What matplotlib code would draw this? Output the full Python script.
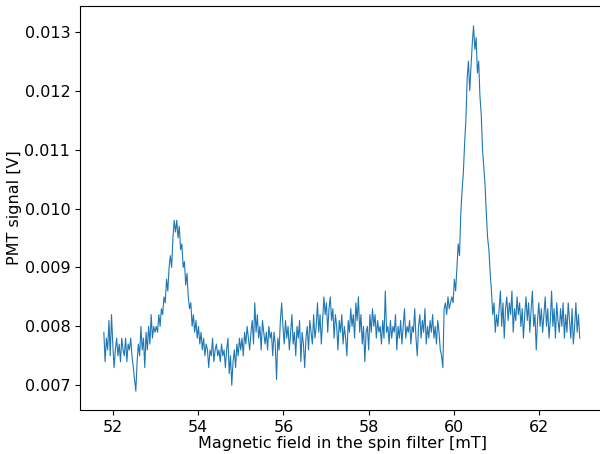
import numpy as np
import matplotlib
matplotlib.use("Agg")
import matplotlib.pyplot as plt

# PMT signal in mV (51.78 mT ... 62.96 mT, even steps)
seg_a = [7.9, 7.4, 7.8, 7.6, 8.1, 7.5, 8.2, 7.7, 7.3, 7.6, 7.8, 7.5, 7.7, 7.4,
         7.8, 7.6, 7.5, 7.8, 7.4, 7.7, 7.6, 7.8, 7.5, 7.3, 7.1, 6.9, 7.4, 7.7,
         7.5, 8.0, 7.6, 7.8, 7.3, 7.9, 7.6, 8.0, 7.7, 8.2, 7.8, 8.0, 7.9]
seg_b = [8.0, 7.9, 8.2, 8.0, 8.3, 8.2, 8.5, 8.4, 8.8, 8.6, 9.0, 9.2, 9.0, 9.5,
         9.8, 9.6, 9.8, 9.5, 9.7, 9.3, 9.4, 9.0, 9.1, 8.7, 8.9, 8.5, 8.3, 8.4,
         8.0, 8.2, 7.9, 8.1, 7.8]
seg_c = [8.0, 7.7, 7.9, 7.6, 7.8, 7.5, 7.7, 7.6, 7.3, 7.6, 7.5, 7.8, 7.4, 7.6,
         7.7, 7.5, 7.6, 7.4, 7.7, 7.5, 7.6, 7.3, 7.6, 7.8, 7.2, 7.5, 7.0, 7.4,
         7.6, 7.3, 7.7, 7.5, 7.8]
seg_d = [7.6, 7.8, 7.5, 7.9, 7.7, 8.0, 7.8, 7.6, 7.9, 8.1, 7.7, 8.4, 7.9, 8.2,
         7.8, 8.0, 7.6, 8.1, 7.9, 7.7, 7.9, 7.6, 8.0, 7.8, 7.9, 7.5, 7.9, 7.7,
         7.1, 7.8, 7.6, 8.1, 8.4]
seg_e = [8.0, 7.7, 8.1, 7.8, 8.0, 7.6, 7.9, 8.2, 7.7, 7.9, 7.5, 8.0, 7.8, 8.1,
         7.4, 7.9, 7.7, 7.3, 7.8, 8.0, 7.6, 8.1, 7.9, 7.7, 8.2, 7.8, 8.0, 8.4,
         7.9, 8.2, 7.7, 8.1, 8.5]
seg_f = [8.2, 8.4, 7.9, 8.3, 8.5, 8.1, 8.3, 7.8, 8.2, 8.0, 7.6, 8.1, 7.9, 8.2,
         7.7, 8.0, 7.8, 7.5, 8.1, 7.9, 8.3, 8.0, 8.2, 7.8, 8.4, 8.1, 8.5, 7.9,
         8.2, 7.7, 8.0, 7.4, 7.9]
seg_g = [8.0, 7.6, 8.2, 7.9, 8.3, 8.0, 8.2, 7.8, 8.1, 7.9, 8.0, 7.7, 8.1, 7.8,
         8.6, 7.9, 8.0, 7.7, 8.1, 7.8, 8.0, 7.9, 8.2, 7.6, 8.0, 7.8, 8.1, 7.7,
         8.0, 8.3, 7.8, 8.0, 7.9]
seg_h = [8.1, 7.7, 8.0, 7.9, 8.3, 7.8, 7.5, 8.0, 8.2, 7.8, 8.1, 7.9, 8.3, 7.7,
         8.0, 7.8, 8.1, 7.9, 8.2, 7.8, 8.0, 7.7, 8.1, 7.9, 7.6, 7.5, 7.3]
seg_i = [8.3, 8.4, 8.2, 8.5, 8.3, 8.4, 8.5, 8.4, 8.8, 8.6, 9.0, 9.4, 9.2, 9.9,
         10.3, 10.6, 11.1, 11.5, 12.2, 12.5, 12.0, 12.4, 12.8, 13.1, 12.7, 12.9,
         12.3, 12.5, 11.9, 11.6, 11.0, 10.7, 10.4, 9.9, 9.5, 9.3, 8.9, 8.6,
         8.2, 8.4, 7.9, 8.2, 8.0]
seg_j = [8.3, 8.6, 8.0, 8.4, 7.8, 8.3, 8.5, 8.1, 8.4, 8.2, 8.6, 7.9, 8.3, 8.1,
         8.5, 8.2, 8.4, 8.0, 8.3, 7.8, 8.2, 8.5, 8.1, 8.4, 7.9, 8.3, 8.6, 8.0,
         8.2, 7.6, 8.1, 8.4, 8.0, 8.3, 7.9, 8.2, 8.5, 8.0, 8.3, 7.8, 8.1, 8.6,
         8.0, 8.3, 7.8, 8.4, 8.1, 7.9, 8.3, 8.0, 8.4, 7.8, 8.2, 7.9, 8.4, 8.1,
         7.8, 8.3, 7.7, 8.0, 8.4, 7.9, 8.2, 7.8]

signal_mv = seg_a + seg_b + seg_c + seg_d + seg_e + seg_f + seg_g + seg_h + seg_i + seg_j
field_start, field_stop = 51.78, 62.96

field = np.linspace(field_start, field_stop, len(signal_mv))
signal = np.array(signal_mv) / 1000.0

fig = plt.figure(figsize=(6.0, 4.54), dpi=100)
ax = fig.add_axes([80 / 600, 44 / 454, 524 / 600, 404 / 454])
ax.plot(field, signal, color='#1f77b4', lw=0.8)

ax.set_xlim(51.22, 63.53)
ax.set_ylim(0.006581, 0.013436)
ax.set_xticks([52, 54, 56, 58, 60, 62])
ax.set_yticks([0.007, 0.008, 0.009, 0.010, 0.011, 0.012, 0.013])
ax.tick_params(labelsize=11.5)
ax.set_xlabel('Magnetic field in the spin filter [mT]', fontsize=11.5, labelpad=1)
ax.set_ylabel('PMT signal [V]', fontsize=11.5, labelpad=2)

fig.savefig('out.png', dpi=100)
